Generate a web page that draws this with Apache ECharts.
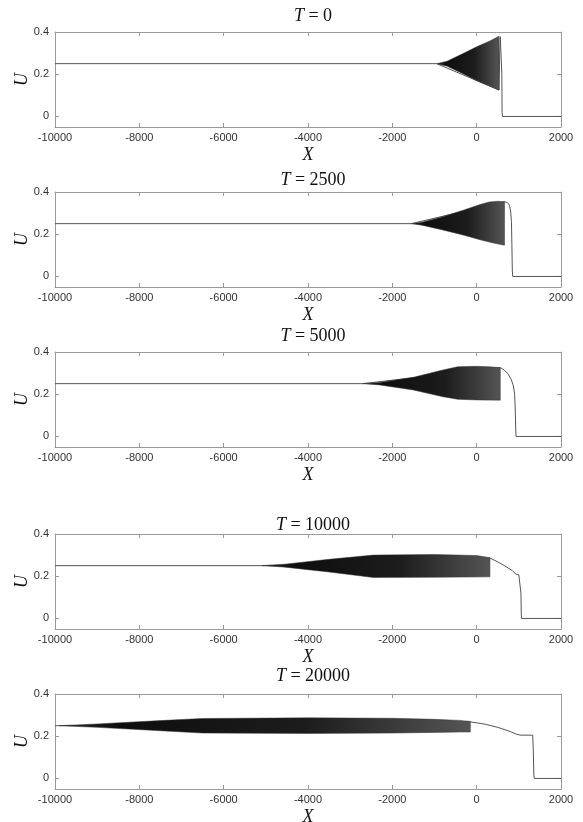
<!DOCTYPE html>
<html>
<head>
<meta charset="utf-8">
<script src="https://cdn.jsdelivr.net/npm/echarts@6/dist/echarts.min.js"></script>
<style>
  html, body { margin: 0; padding: 0; background: #fff; }
  #chart { width: 583px; height: 822px; }
</style>
</head>
<body>
<div id="chart"></div>
<script>
// panel titles (value of T)
const times = ['0', '2500', '5000', '10000', '20000'];

// solid curve of each panel: flat state, then the tail behind the wave train, the front and U = 0
const line0 = [[-10000, 0.25], [-950, 0.25], [530, 0.125], [546, 0.3], [560, 0.378], [576, 0.386], [590, 0.37], [597, 0.2], [603, 0.02], [612, 0], [2000, 0]];
const line1 = [[-10000, 0.25], [-1550, 0.25], [660, 0.354], [730, 0.35], [775, 0.338], [805, 0.31], [825, 0.26], [835, 0.15], [845, 0.03], [855, 0], [2000, 0]];
const line2 = [[-10000, 0.25], [-2700, 0.25], [560, 0.326], [650, 0.315], [740, 0.298], [820, 0.27], [870, 0.24], [900, 0.2], [915, 0.13], [925, 0.04], [935, 0], [2000, 0]];
const line3 = [[-10000, 0.25], [-5100, 0.25], [315, 0.286], [500, 0.268], [700, 0.245], [850, 0.226], [930, 0.21], [1000, 0.206], [1040, 0.205], [1050, 0.12], [1058, 0.02], [1065, 0], [2000, 0]];
const line4 = [[-10000, 0.25], [-9900, 0.25], [-150, 0.268], [200, 0.257], [500, 0.242], [800, 0.222], [950, 0.209], [1050, 0.205], [1330, 0.205], [1345, 0.12], [1355, 0.02], [1365, 0], [2000, 0]];

// envelopes of the oscillating wave train (upper / lower)
const upper0 = [[-950, 0.25], [-700, 0.262], [-300, 0.3], [0, 0.33], [300, 0.356], [530, 0.38]];
const lower0 = [[-950, 0.25], [-700, 0.238], [-300, 0.2], [0, 0.17], [300, 0.145], [530, 0.125]];
const upper1 = [[-1550, 0.25], [-1300, 0.257], [-800, 0.283], [-300, 0.315], [100, 0.342], [300, 0.353], [500, 0.356], [660, 0.354]];
const lower1 = [[-1550, 0.25], [-1300, 0.243], [-800, 0.22], [-300, 0.195], [100, 0.173], [400, 0.158], [660, 0.148]];
const upper2 = [[-2700, 0.25], [-2300, 0.256], [-1500, 0.28], [-800, 0.315], [-450, 0.33], [0, 0.332], [300, 0.33], [560, 0.326]];
const lower2 = [[-2700, 0.25], [-2300, 0.244], [-1500, 0.22], [-800, 0.188], [-450, 0.176], [0, 0.173], [560, 0.172]];
const upper3 = [[-5100, 0.25], [-4600, 0.256], [-3500, 0.28], [-2450, 0.3], [-1000, 0.303], [0, 0.298], [315, 0.288]];
const lower3 = [[-5100, 0.25], [-4600, 0.244], [-3500, 0.22], [-2450, 0.194], [-1000, 0.195], [315, 0.197]];
const upper4 = [[-9900, 0.25], [-9000, 0.258], [-7500, 0.274], [-6500, 0.284], [-4000, 0.287], [-2000, 0.285], [-1000, 0.28], [-400, 0.275], [-150, 0.27]];
const lower4 = [[-9900, 0.25], [-9000, 0.242], [-7500, 0.226], [-6500, 0.215], [-4000, 0.213], [-2000, 0.215], [-1000, 0.218], [-400, 0.22], [-150, 0.22]];

const yTicks = [0, 0.2, 0.4];

const lines = [line0, line1, line2, line3, line4];
const uppers = [upper0, upper1, upper2, upper3, upper4];
const lowers = [lower0, lower1, lower2, lower3, lower4];

// layout of the 5 panels
const gridTop = [32, 192, 352, 534, 694];
const titleTop = [2, 166, 322, 511, 662];
const plotH = 95;

const axisColor = '#9a9a9a';
const labelFont = { color: '#333', fontSize: 11, fontFamily: 'Liberation Sans' };
const mathFont = { fontStyle: 'italic', fontFamily: 'Liberation Serif', fontSize: 18, color: '#111' };

const chart = echarts.init(document.getElementById('chart'));

const grid = [], xAxis = [], yAxis = [], series = [], title = [];

const boxLine = { show: true, onZero: false, lineStyle: { color: axisColor, width: 1 } };

times.forEach((t, i) => {
  grid.push({ left: 55, right: 22, top: gridTop[i], height: plotH, outerBoundsMode: 'none', containLabel: false });
  title.push({
    text: '{i|T} = ' + t,
    left: 308, top: titleTop[i], textAlign: 'center',
    textStyle: { fontFamily: 'Liberation Serif', fontSize: 18, fontWeight: 'normal', color: '#111', rich: { i: mathFont } }
  });
  // bottom + top x axes
  xAxis.push({
    type: 'value', gridIndex: i, position: 'bottom', min: -10000, max: 2000, interval: 2000,
    name: 'X', nameLocation: 'middle', nameGap: 19, nameMoveOverlap: false, nameTextStyle: mathFont,
    axisLine: boxLine,
    axisTick: { inside: true, length: 4, lineStyle: { color: axisColor } },
    axisLabel: Object.assign({ margin: 5, formatter: v => String(v) }, labelFont),
    splitLine: { show: false }
  });
  xAxis.push({
    type: 'value', gridIndex: i, position: 'top', min: -10000, max: 2000, interval: 2000,
    axisLine: boxLine,
    axisTick: { inside: true, length: 4, lineStyle: { color: axisColor } },
    axisLabel: { show: false }, splitLine: { show: false }
  });
  // left + right y axes
  yAxis.push({
    type: 'value', gridIndex: i, position: 'left', min: -0.05, max: 0.4,
    name: 'U', nameLocation: 'middle', nameGap: 24, nameMoveOverlap: false, nameRotate: 90, nameTextStyle: mathFont,
    axisLine: boxLine,
    axisTick: { show: true, inside: true, length: 4, customValues: yTicks, lineStyle: { color: axisColor } },
    axisLabel: Object.assign({ margin: 6, customValues: yTicks }, labelFont),
    splitLine: { show: false }
  });
  yAxis.push({
    type: 'value', gridIndex: i, position: 'right', min: -0.05, max: 0.4,
    axisLine: boxLine,
    axisTick: { show: true, inside: true, length: 4, customValues: yTicks, lineStyle: { color: axisColor } },
    axisLabel: { show: false }, splitLine: { show: false }
  });

  series.push({
    type: 'line', xAxisIndex: i * 2, yAxisIndex: i * 2,
    data: lines[i], showSymbol: false, symbol: 'none', silent: true, z: 2,
    lineStyle: { color: '#555', width: 1 }
  });

  const up = uppers[i], lo = lowers[i];
  series.push({
    type: 'custom', xAxisIndex: i * 2, yAxisIndex: i * 2, silent: true, z: 3,
    data: up,
    encode: { x: 0, y: 1 },
    renderItem: function (params, api) {
      if (params.dataIndex !== 0) return null;
      const pts = up.map(p => api.coord(p)).concat(lo.slice().reverse().map(p => api.coord(p)));
      return {
        type: 'polygon',
        shape: { points: pts },
        style: {
          fill: new echarts.graphic.LinearGradient(0, 0, 1, 0, [
            { offset: 0, color: '#2a2a2a' },
            { offset: 0.15, color: '#0e0e0e' },
            { offset: 0.6, color: '#1c1c1c' },
            { offset: 1, color: '#555' }
          ]),
          stroke: '#333', lineWidth: 0.5
        }
      };
    }
  });
});

chart.setOption({
  animation: false,
  backgroundColor: '#fff',
  title: title,
  grid: grid,
  xAxis: xAxis,
  yAxis: yAxis,
  series: series
});
</script>
</body>
</html>
